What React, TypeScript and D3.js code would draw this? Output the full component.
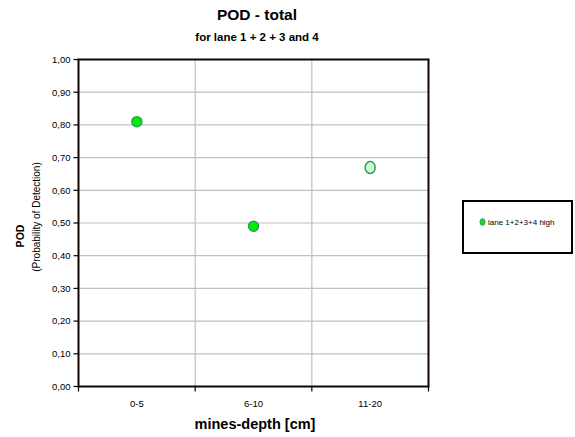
import React from "react";
import * as d3 from "d3";

const categories = ["0-5", "6-10", "11-20"];
const podValues = [0.81, 0.49, 0.67];
const yTicks = [0, 0.1, 0.2, 0.3, 0.4, 0.5, 0.6, 0.7, 0.8, 0.9, 1.0];
const seriesName = "lane 1+2+3+4 high";
const titleText = "POD - total";
const subtitleText = "for lane 1 + 2 + 3 and 4";
const xLabel = "mines-depth [cm]";
const yLabelMain = "POD";
const yLabelSub = "(Probability of Detection)";

const W = 575;
const H = 437;
const plot = { left: 78.5, right: 428.5, top: 59.5, bottom: 386.5 };
const FONT = "'Liberation Sans', Arial, sans-serif";
const pointFills = ["#00ee00", "#00ee00", "#ccffcc"];
const pointRy = [5, 5, 6];

const locale = d3.formatLocale({ decimal: ",", thousands: ".", grouping: [3], currency: ["", ""] });
const fmt = locale.format(".2f");

export default function App() {
  const x = d3.scaleBand<string>().domain(categories).range([plot.left, plot.right]).padding(0);
  const y = d3.scaleLinear().domain([0, 1]).range([plot.bottom, plot.top]);
  const bw = x.bandwidth();

  return (
    <svg width={W} height={H} style={{ position: "absolute", left: 0, top: 0, background: "#fff" }} fontFamily={FONT}>
      {/* grid lines */}
      {yTicks.filter((t) => t > 0 && t < 1).map((t) => (
        <line key={"gy" + t} x1={plot.left} x2={plot.right} y1={y(t)} y2={y(t)} stroke="#c0c0c0" strokeWidth={1.2} />
      ))}
      {categories.slice(1).map((c) => (
        <line key={"gx" + c} x1={x(c)!} x2={x(c)!} y1={plot.top} y2={plot.bottom} stroke="#c0c0c0" strokeWidth={1.2} />
      ))}
      {/* plot border */}
      <rect x={plot.left} y={plot.top} width={plot.right - plot.left} height={plot.bottom - plot.top} fill="none" stroke="#140404" strokeWidth={2} />
      {/* y ticks */}
      {yTicks.map((t) => (
        <g key={"yt" + t}>
          <line x1={plot.left - 5} x2={plot.left} y1={y(t)} y2={y(t)} stroke="#000" strokeWidth={1.2} />
          <text x={plot.left - 8} y={y(t)} dy="0.35em" textAnchor="end" fontSize={9.5} fill="#000">
            {fmt(t)}
          </text>
        </g>
      ))}
      {/* x ticks */}
      {[...categories.map((c) => x(c)!), plot.right].map((px, i) => (
        <line key={"xt" + i} x1={px} x2={px} y1={plot.bottom} y2={plot.bottom + 5} stroke="#000" strokeWidth={1.2} />
      ))}
      {categories.map((c) => (
        <text key={"xl" + c} x={x(c)! + bw / 2} y={407} textAnchor="middle" fontSize={9.5} fill="#000">
          {c}
        </text>
      ))}
      {/* points */}
      {podValues.map((v, i) => (
        <ellipse
          key={"p" + i}
          cx={x(categories[i])! + bw / 2}
          cy={y(v)}
          rx={5}
          ry={pointRy[i]}
          fill={pointFills[i]}
          stroke="#339966"
          strokeWidth={1.5}
        />
      ))}
      {/* titles */}
      <text x={257} y={20} textAnchor="middle" fontSize={15.5} fontWeight="bold" fill="#000">
        {titleText}
      </text>
      <text x={257} y={41} textAnchor="middle" fontSize={11.5} fontWeight="bold" fill="#000">
        {subtitleText}
      </text>
      <text x={255} y={429} textAnchor="middle" fontSize={14.5} fontWeight="bold" fill="#000">
        {xLabel}
      </text>
      <text transform="translate(24,236) rotate(-90)" textAnchor="middle" fontSize={10.5} fontWeight="bold" fill="#000">
        {yLabelMain}
      </text>
      <text transform="translate(40,217) rotate(-90)" textAnchor="middle" fontSize={10} fill="#000">
        {yLabelSub}
      </text>
      {/* legend */}
      <rect x={463} y={201} width={109} height={52} fill="#fff" stroke="#000" strokeWidth={2} />
      <ellipse cx={482.5} cy={222} rx={2.5} ry={3.3} fill="#00ee00" stroke="#339966" strokeWidth={1} />
      <text x={488} y={222} dy="0.35em" fontSize={8} fill="#000">
        {seriesName}
      </text>
    </svg>
  );
}
